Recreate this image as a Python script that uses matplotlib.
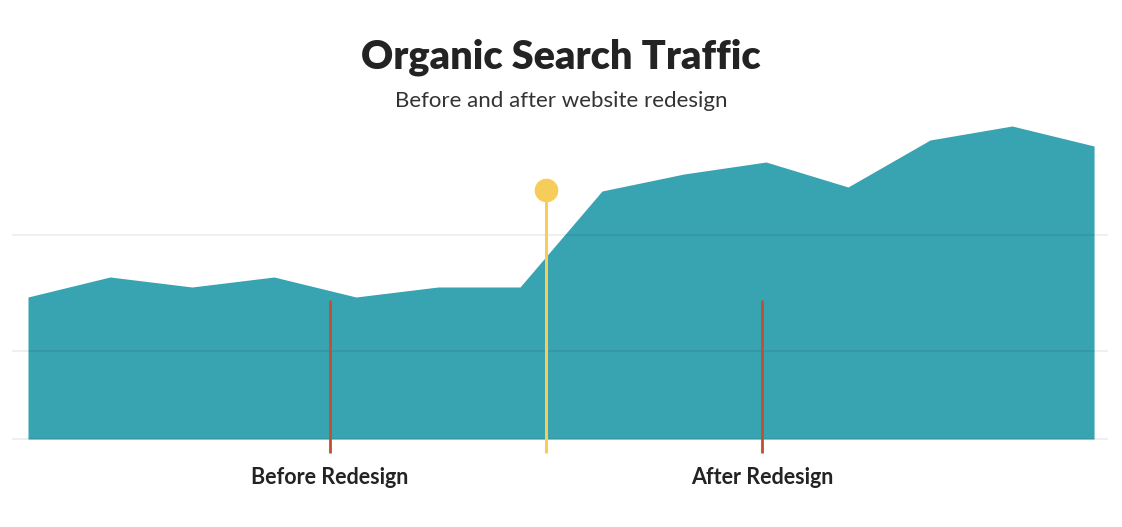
import matplotlib.pyplot as plt

# Traffic data (relative units)
periods = list(range(14))
traffic = [142, 162, 152, 162, 142, 152, 152, 248, 265, 277, 252, 299, 313, 293]
grid_levels = [0, 88, 204]

# Redesign event and the two phase markers
redesign_at = 6.32
phase_at = [3.68, 8.95]
phase_labels = ['Before Redesign', 'After Redesign']

teal = '#38a3b1'
yellow = '#f6cd58'
rust = '#c0512f'
ink = '#232323'

W, H = 1122, 527
fig = plt.figure(figsize=(W / 100, H / 100), dpi=100)
ax = fig.add_axes([12 / W, (H - 460) / H, (1108 - 12) / W, (460 - 120) / H])

ax.fill_between(periods, traffic, 0, color=teal, linewidth=0, zorder=1)

# light gridlines, drawn on top of the area like in the original
for g in grid_levels:
    ax.axhline(g, color='black', alpha=0.075, linewidth=1.2, zorder=2)

# phase markers
for xp in phase_at:
    ax.plot([xp, xp], [-14, 139], color=rust, linewidth=2, solid_capstyle='butt', zorder=3)

# redesign pin
ax.plot([redesign_at, redesign_at], [-14, 249], color=yellow, linewidth=2.2,
        solid_capstyle='butt', zorder=4)
ax.plot(redesign_at, 249, 'o', color=yellow, markersize=16, zorder=5)

ax.set_xlim(-0.195, 13.17)
ax.set_ylim(-21, 319)
ax.axis('off')

fig.text(0.5, 1 - 57 / H, 'Organic Search Traffic', ha='center', va='center',
         fontsize=28.5, fontweight='heavy', family='Lato', color=ink)
fig.text(0.5, 1 - 101 / H, 'Before and after website redesign', ha='center', va='center',
         fontsize=16, family='Lato', color='#333333')

for xp, lab in zip(phase_at, phase_labels):
    px = ax.transData.transform((xp, 0))[0] / W
    fig.text(px, 1 - 477 / H, lab, ha='center', va='center',
             fontsize=15.5, fontweight='bold', family='Lato', color=ink)

fig.savefig('out.png', dpi=100, facecolor='white')
